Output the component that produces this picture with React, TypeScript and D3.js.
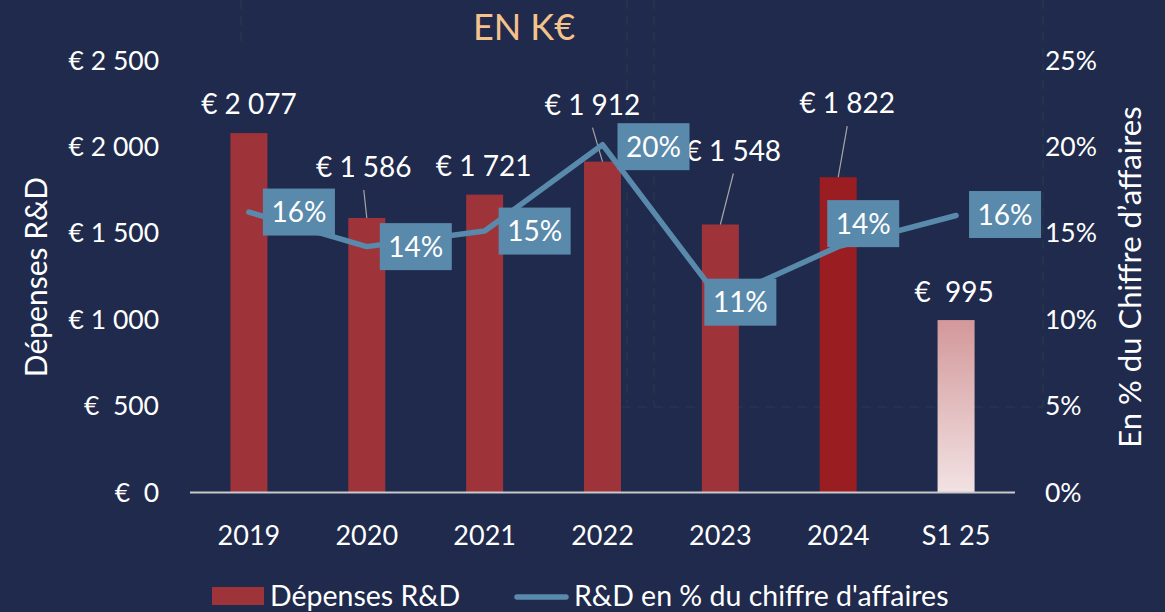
import React from "react";
import * as d3 from "d3";

// ---- data ----
const categories = ["2019", "2020", "2021", "2022", "2023", "2024", "S1 25"];
const rdSpend = [2077, 1586, 1721, 1912, 1548, 1822, 995];
const rdPct = [0.162, 0.142, 0.151, 0.201, 0.111, 0.142, 0.16];
const leftTicks = [0, 500, 1000, 1500, 2000, 2500];
const rightTicks = [0, 0.05, 0.1, 0.15, 0.2, 0.25];
const seriesNames = ["Dépenses R&D", "R&D en % du chiffre d'affaires"];
const titleText = "EN K€";
const leftTitle = "Dépenses R&D";
const rightTitle = "En % du Chiffre d’affaires";

// ---- layout (label placement, not data) ----
const W = 1165;
const H = 612;
const valueLabelShift: [number, number][] = [
  [0, -29], [-3, -51], [-1, -29], [-10, -57], [13, -74], [9, -74], [-2, -28],
];
const hasLeader = [false, true, false, true, true, true, false];
const pctLabelShift: [number, number][] = [
  [50, 0], [49, 0], [50, 0], [51, 2], [20, 2], [25, -23], [49, -1],
];

const BG = "#1f2a4c";
const BAR = "#9e343a";
const BAR_2024 = "#9a1d21";
const LINE = "#5a8aab";
const FONT = "Lato, 'Open Sans', sans-serif";

const fmtNum = (v: number) => {
  const s = d3.format(",")(v).replace(/,/g, "\u00a0");
  return v >= 1000 ? "€\u00a0" + s : "€\u00a0\u00a0" + s;
};
const fmtPct = d3.format(".0%");

export default function App() {
  const x = d3
    .scaleBand<string>()
    .domain(categories)
    .range([190, 1015])
    .paddingInner(0.686)
    .paddingOuter(0.343);
  const yL = d3.scaleLinear().domain([0, 2500]).range([492, 60]);
  const yR = d3.scaleLinear().domain([0, 0.25]).range([492, 60]);
  const cx = (c: string) => (x(c) as number) + x.bandwidth() / 2;

  const line = d3
    .line<number>()
    .x((_, i) => cx(categories[i]))
    .y((d) => yR(d));

  const fs = 26.5;
  const lf = 28;

  return (
    <svg
      width={W}
      height={H}
      style={{ position: "absolute", left: 0, top: 0, display: "block" }}
      fontFamily={FONT}
    >
      <defs>
        <linearGradient id="s1grad" x1="0" y1="0" x2="0" y2="1">
          <stop offset="0%" stopColor="#d3989a" />
          <stop offset="100%" stopColor="#f2e2e3" />
        </linearGradient>
      </defs>
      <rect x={0} y={0} width={W} height={H} fill={BG} />

      {/* faint background artefact dashes */}
      <g stroke="#29374a" strokeWidth={1.5} strokeDasharray="9 7" fill="none">
        <line x1={241} y1={0} x2={241} y2={42} />
        <line x1={627} y1={0} x2={627} y2={403} />
        <line x1={654} y1={0} x2={654} y2={407} />
        <line x1={1043} y1={0} x2={1043} y2={407} />
        <line x1={622} y1={407} x2={1043} y2={407} />
      </g>

      {/* title */}
      <text x={524} y={40} textAnchor="middle" fill="#f6c28c" fontSize={36}>
        {titleText}
      </text>

      {/* left ticks */}
      {leftTicks.map((t) => (
        <text key={t} x={159} y={yL(t) + fs * 0.36} textAnchor="end" fill="#fff" fontSize={fs}>
          {fmtNum(t)}
        </text>
      ))}
      {/* right ticks */}
      {rightTicks.map((t) => (
        <text key={t} x={1045} y={yR(t) + fs * 0.36} fill="#fff" fontSize={fs}>
          {fmtPct(t)}
        </text>
      ))}

      {/* axis titles */}
      <text
        transform={`translate(47,277) rotate(-90)`}
        textAnchor="middle"
        fill="#fff"
        fontSize={30}
      >
        {leftTitle}
      </text>
      <text
        transform={`translate(1141,277) rotate(-90)`}
        textAnchor="middle"
        fill="#fff"
        fontSize={31}
      >
        {rightTitle}
      </text>

      {/* bars */}
      {rdSpend.map((v, i) => (
        <rect
          key={categories[i]}
          x={x(categories[i])}
          y={yL(v)}
          width={x.bandwidth()}
          height={yL(0) - yL(v)}
          fill={i === 6 ? "url(#s1grad)" : i === 5 ? BAR_2024 : BAR}
        />
      ))}

      {/* axis line */}
      <line x1={190} x2={1015} y1={492.5} y2={492.5} stroke="#c9c9c9" strokeWidth={2} />

      {/* category labels */}
      {categories.map((c) => (
        <text key={c} x={cx(c)} y={535 + 27 * 0.36} textAnchor="middle" fill="#fff" fontSize={27}>
          {c}
        </text>
      ))}

      {/* value labels + leader lines */}
      {rdSpend.map((v, i) => {
        const bx = cx(categories[i]);
        const by = yL(v);
        const lx = bx + valueLabelShift[i][0];
        const ly = by + valueLabelShift[i][1];
        return (
          <g key={"v" + i}>
            {hasLeader[i] && (
              <line x1={lx} y1={ly + 23} x2={bx} y2={by} stroke="#a6a6a6" strokeWidth={1.2} />
            )}
            <text x={lx} y={ly + lf * 0.36} textAnchor="middle" fill="#fff" fontSize={lf}>
              {fmtNum(v)}
            </text>
          </g>
        );
      })}

      {/* line series */}
      <path
        d={line(rdPct) || ""}
        fill="none"
        stroke={LINE}
        strokeWidth={5.5}
        strokeLinecap="round"
        strokeLinejoin="round"
      />

      {/* pct labels */}
      {rdPct.map((p, i) => {
        const px = cx(categories[i]) + pctLabelShift[i][0];
        const py = yR(p) + pctLabelShift[i][1];
        return (
          <g key={"p" + i}>
            <rect x={px - 36} y={py - 23.5} width={72} height={47} fill={LINE} />
            <text x={px} y={py + lf * 0.36} textAnchor="middle" fill="#fff" fontSize={lf}>
              {fmtPct(p)}
            </text>
          </g>
        );
      })}

      {/* legend */}
      <rect x={212} y={587} width={52} height={18} fill={BAR} />
      <text x={270} y={606} fill="#fff" fontSize={28.5}>
        {seriesNames[0]}
      </text>
      <line x1={517} x2={566} y1={597} y2={597} stroke={LINE} strokeWidth={5.5} strokeLinecap="round" />
      <text x={574} y={606} fill="#fff" fontSize={28.5}>
        {seriesNames[1]}
      </text>
    </svg>
  );
}
